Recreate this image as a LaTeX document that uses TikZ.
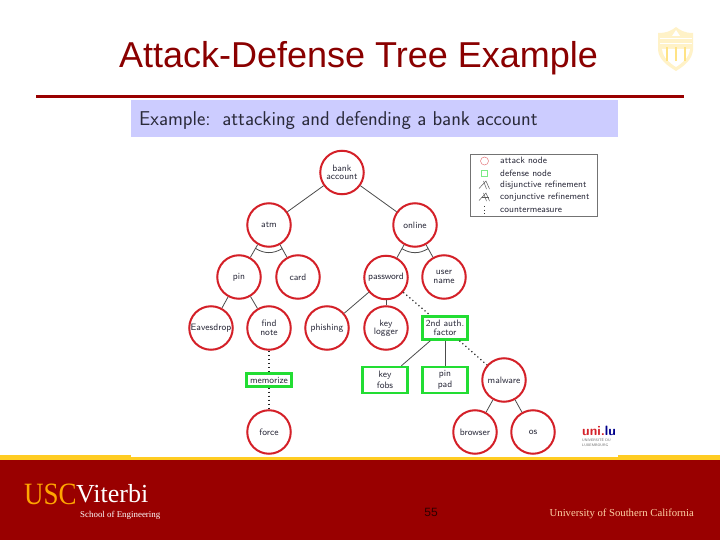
\documentclass[tikz,border=0pt]{standalone}
\usepackage{fontspec}
\setmainfont{Liberation Sans}
\newfontfamily\seriffam{Liberation Serif}
\usetikzlibrary{calc}
\definecolor{uscred}{HTML}{990000}
\definecolor{uscgold}{HTML}{FFCC22}
\definecolor{nodered}{HTML}{D42028}
\definecolor{nodegreen}{HTML}{22DD33}
\definecolor{inktext}{HTML}{2A2A3A}
\tikzset{
  atk/.style={circle,draw=nodered,line width=2pt,fill=white,minimum size=43.5pt,inner sep=0pt,align=center,text=inktext,font=\sffamily\fontsize{9.3}{8.5}\selectfont},
  def/.style={rectangle,draw=nodegreen,line width=2.4pt,fill=white,minimum width=45pt,inner sep=0pt,align=center,text=inktext,font=\sffamily\fontsize{9.3}{11.5}\selectfont},
  refine/.style={draw=black!70,line width=0.8pt},
  counter/.style={draw=black!85,line width=1.2pt,dash pattern=on 1.2pt off 2.8pt},
  legtext/.style={anchor=west,inner sep=0pt,text=inktext,font=\sffamily\fontsize{9.2}{9}\selectfont},
  legline/.style={draw=black!65,line width=0.5pt},
}
\begin{document}
\begin{tikzpicture}[x=1pt,y=-1pt]
\useasboundingbox (0,0) rectangle (720,540);
\fill[white] (0,0) rectangle (720,540);
% footer
\fill[uscgold] (0,455) rectangle (720,460);
\fill[white] (131,450) rectangle (618,457);
\fill[uscred] (0,460) rectangle (720,540);
% title
\node[anchor=center,inner sep=0pt,text=uscred!90!black,font=\fontsize{36}{38}\selectfont] (title) at (358.5,58) {Attack-Defense Tree Example};
\fill[uscred] (36,95) rectangle (684,98);
% header band
\fill[blue!20!white] (131,100) rectangle (618,137);
\node[anchor=west,inner sep=0pt,text=inktext,font=\sffamily\fontsize{20}{22}\selectfont] (head) at (139,121) {Example:\, attacking and defending a bank account};
% nodes
\node[atk] (bank) at (342,172.5) {bank\\account};
\node[atk] (atm) at (269,225) {atm};
\node[atk] (online) at (415,225) {online};
\node[atk] (pin) at (239,277) {pin};
\node[atk] (card) at (298,277) {card};
\node[atk] (password) at (386,277.5) {password};
\node[atk] (user) at (444,277) {user\\name};
\node[atk] (eaves) at (211,328) {Eavesdrop};
\node[atk] (find) at (269,328) {find\\note};
\node[atk] (phish) at (327,328) {phishing};
\node[atk] (logger) at (386,328) {key\\logger};
\node[def,minimum height=23pt,font=\sffamily\fontsize{9.3}{9.5}\selectfont] (auth) at (445,328) {2nd auth.\\factor};
\node[def,minimum height=13pt] (memo) at (269,380) {memorize};
\node[def,minimum height=26pt] (fobs) at (385,380) {key\\fobs};
\node[def,minimum height=26pt] (pad) at (445,380) {pin\\pad};
\node[atk] (malware) at (504,380) {malware};
\node[atk] (browser) at (475,432) {browser};
\node[atk] (os) at (533,432) {os};
\node[atk] (force) at (269,432) {force};
% refinements
\draw[refine] (bank) -- (atm);
\draw[refine] (bank) -- (online);
\draw[refine] (atm) -- (pin);
\draw[refine] (atm) -- (card);
\draw[refine] (online) -- (password);
\draw[refine] (online) -- (user);
\draw[refine] (pin) -- (eaves);
\draw[refine] (pin) -- (find);
\draw[refine] (password) -- (phish);
\draw[refine] (password) -- (logger);
\draw[refine] (auth) -- (fobs);
\draw[refine] (auth) -- (pad);
\draw[refine] (malware) -- (browser);
\draw[refine] (malware) -- (os);
% conjunction arcs
\draw[refine] ($(atm)!27pt!(pin)$) to[bend right=32] ($(atm)!27pt!(card)$);
\draw[refine] ($(online)!27pt!(password)$) to[bend right=32] ($(online)!27pt!(user)$);
% countermeasures
\draw[counter] (find) -- (memo);
\draw[counter] (memo) -- (force);
\draw[counter] (password) -- (auth);
\draw[counter] (auth) -- (malware);
% legend
\draw[draw=black!55,line width=0.7pt,fill=white] (470,154.5) rectangle (597.5,216);
\draw[draw=nodered!60,line width=0.5pt] (484.5,161) circle (4);
\draw[draw=nodegreen!60,line width=0.6pt] (481.5,170.5) rectangle (487.5,176.5);
\node[legtext] (l1) at (500,160.5) {attack node};
\node[legtext] (l2) at (500,173) {defense node};
\node[legtext] (l3) at (500,185) {disjunctive refinement};
\node[legtext] (l4) at (500,197.5) {conjunctive refinement};
\node[legtext] (l5) at (500,210) {countermeasure};
\draw[legline] (479,188.5) -- (486,181) -- (489.5,189);
\draw[legline] (483.5,181) -- (486.5,189);
\draw[legline] (479,200.5) -- (486,193) -- (489.5,201);
\draw[legline] (483.5,193) -- (486.5,201);
\draw[legline] (482,197.5) -- (488.5,197.5);
\draw[black!80,line width=0.9pt,dash pattern=on 1pt off 2.7pt] (484.5,206) -- (484.5,214);
% shield
\fill[uscgold!25!white] (658,33) .. controls (668,33) and (672,30) .. (676,27) .. controls (680,30) and (684,33) .. (693,33) -- (693,50) .. controls (692,60) and (684,66) .. (676,71) .. controls (668,66) and (659,60) .. (658,50) -- cycle;
\fill[white] (662,49) .. controls (663,58) and (670,63) .. (676,67) .. controls (682,63) and (689,58) .. (690,49) -- cycle;
\foreach \xa in {667,676,685}{\fill[uscgold!55!white] (\xa-1,47) rectangle (\xa+1,61);}
\fill[white] (672,36) -- (676,30) -- (680,36) -- cycle;
\draw[white,line width=0.6pt] (660,38) -- (692,38) (660,43) -- (692,43);
% logo uni.lu
\node[inner sep=0pt,anchor=west,text=nodered,font=\sffamily\bfseries\fontsize{13.5}{14}\selectfont] (unilogo) at (582,431) {uni.\textcolor{blue!55!black}{lu}};
\node[inner sep=0pt,anchor=north west,align=left,text=black!60,font=\sffamily\fontsize{3.6}{4.2}\selectfont] (unisub) at (582,438.5) {UNIVERSIT\'E DU\\LUXEMBOURG};
% footer logos
\node[inner sep=0pt,anchor=west,text=orange!70!yellow,font=\seriffam\fontsize{31}{32}\selectfont,xscale=.87] (usc) at (24,494) {USC};
\node[inner sep=0pt,anchor=west,text=white,font=\seriffam\fontsize{26}{26}\selectfont] (vit) at (76,494) {Viterbi};
\node[inner sep=0pt,anchor=west,text=white,font=\seriffam\fontsize{8.9}{9}\selectfont] (school) at (80,515) {School of Engineering};
\node[inner sep=0pt,anchor=east,text=orange!35!white,font=\seriffam\fontsize{10.7}{12}\selectfont] (univ) at (694,514) {University of Southern California};
\node[inner sep=0pt,text=black!70!uscred,font=\fontsize{12}{12}\selectfont] (pageno) at (431,512) {55};
\end{tikzpicture}
\end{document}
